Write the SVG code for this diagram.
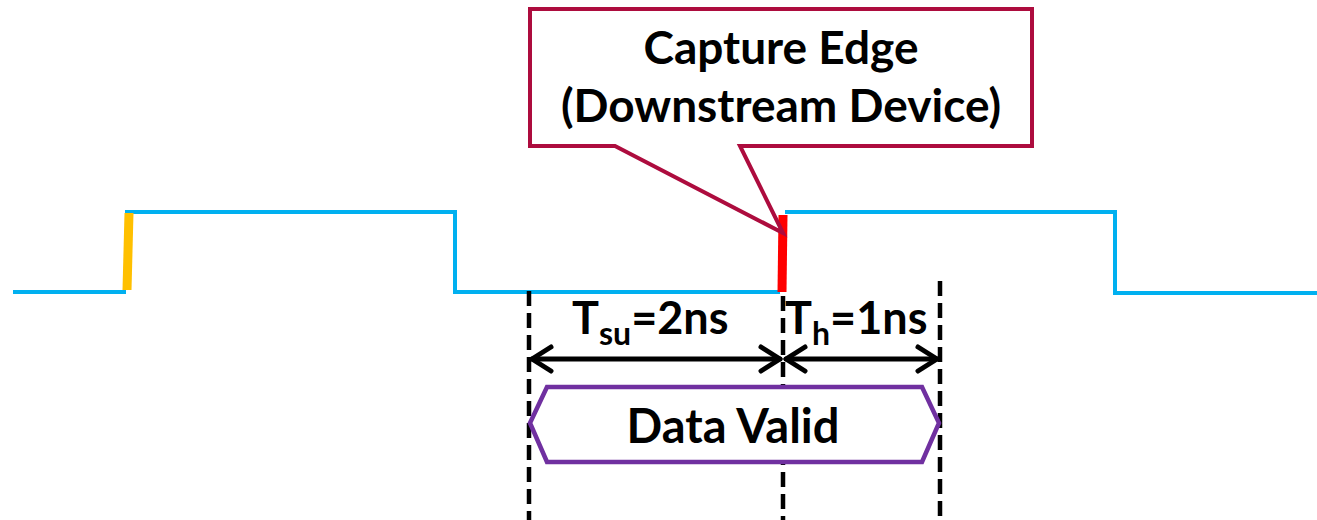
<svg xmlns="http://www.w3.org/2000/svg" width="1317" height="520" viewBox="0 0 1317 520">
  <style>
    .lbl { font-family: Lato, "Open Sans", sans-serif; font-weight: bold; fill: #000; }
    .sig { fill: none; stroke: #00B0F0; stroke-width: 4; }
    .guide { stroke: #000; stroke-width: 4.5; stroke-dasharray: 15 7; }
    .dim { stroke: #000; stroke-width: 5; fill: none; stroke-linecap: round; stroke-linejoin: round; }
  </style>

  <!-- clock / data signal waveform -->
  <g id="waveform">
    <polyline class="sig" points="13,292 126,292"/>
    <polyline class="sig" points="125,212 455,212 455,292 780,292"/>
    <polyline class="sig" points="785,212 1115,212 1115,293 1317,293"/>
    <line x1="127" y1="290" x2="129" y2="213" stroke="#FFC000" stroke-width="9"/>
    <line x1="782" y1="292" x2="783" y2="215" stroke="#FF0000" stroke-width="9"/>
  </g>

  <!-- callout pointing at the capture edge -->
  <g id="callout">
    <path d="M530,9 H1032 V146 H740 L783,233 L615,146 H530 Z" fill="#fff" stroke="#AD0C3E" stroke-width="4" stroke-linejoin="miter"/>
    <text class="lbl" x="781" y="64" font-size="46" text-anchor="middle">Capture Edge</text>
    <text class="lbl" x="781" y="122" font-size="46" text-anchor="middle">(Downstream Device)</text>
  </g>

  <!-- timing reference guides and dimension arrows -->
  <g id="connectors">
    <line class="guide" x1="529" y1="291" x2="529" y2="520"/>
    <line class="guide" x1="783" y1="296" x2="783" y2="520"/>
    <line class="guide" x1="940" y1="281" x2="940" y2="520"/>
    <line class="dim" x1="532" y1="359" x2="780" y2="359"/>
    <polyline class="dim" points="551,347 532,359 551,371"/>
    <polyline class="dim" points="761,347 780,359 761,371"/>
    <line class="dim" x1="786" y1="359" x2="937" y2="359"/>
    <polyline class="dim" points="805,347 786,359 805,371"/>
    <polyline class="dim" points="918,347 937,359 918,371"/>
  </g>

  <g id="setup-label">
    <text class="lbl" x="572" y="334" font-size="45">T<tspan font-size="32" dy="11">su</tspan><tspan dy="-11">=2ns</tspan></text>
  </g>
  <g id="hold-label">
    <text class="lbl" x="785" y="334" font-size="45">T<tspan font-size="32" dy="11">h</tspan><tspan dy="-11">=1ns</tspan></text>
  </g>

  <!-- data valid window -->
  <g id="data-valid">
    <polygon points="530,423 547,387 922,387 939,423 922,462 547,462" fill="#fff" stroke="#7030A0" stroke-width="4.5"/>
    <text class="lbl" x="733" y="443" font-size="47" text-anchor="middle">Data Valid</text>
  </g>
</svg>
